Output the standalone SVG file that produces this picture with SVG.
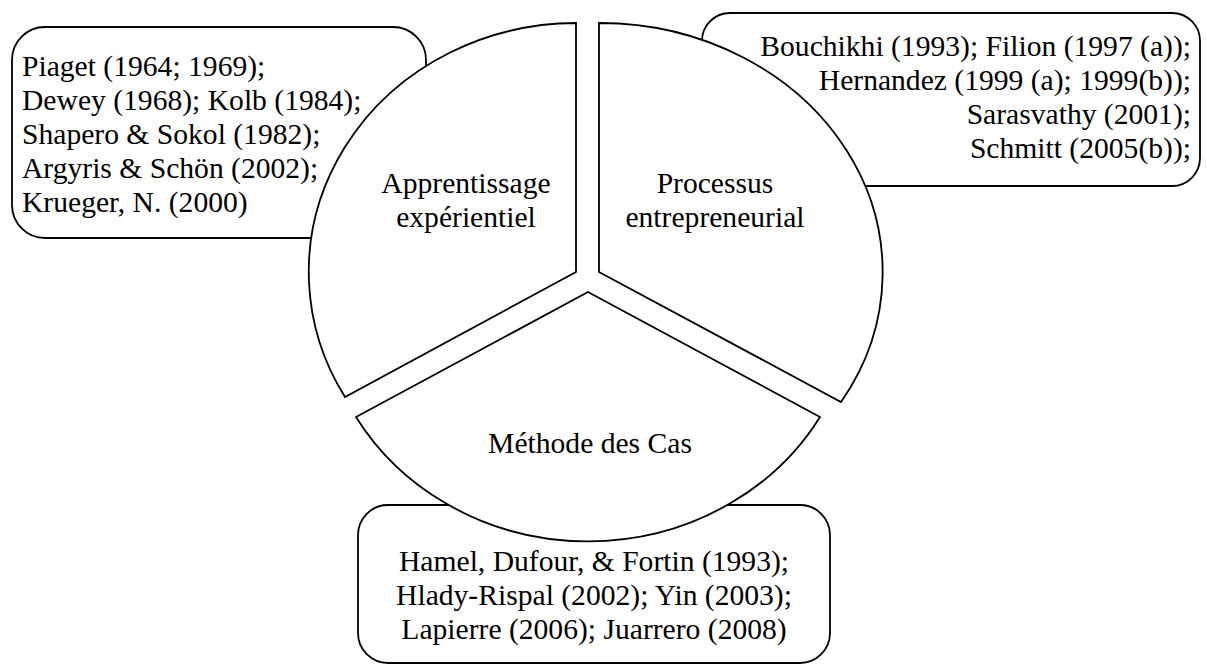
<svg xmlns="http://www.w3.org/2000/svg" width="1207" height="666" viewBox="0 0 1207 666">
<style>
  .box { fill: #ffffff; stroke: #000000; stroke-width: 1.8; }
  .seg { fill: #ffffff; stroke: #000000; stroke-width: 1.8; stroke-linejoin: miter; }
  text { font-family: "Liberation Serif", "Times New Roman", serif; font-size: 29.6px; fill: #000000; }
  .mid { text-anchor: middle; }
  .end { text-anchor: end; }
</style>
<rect width="1207" height="666" fill="#ffffff"/>

<g id="ref-apprentissage">
  <rect class="box" x="12" y="27" width="414" height="211" rx="33" ry="33"/>
  <text x="22" y="76">Piaget (1964; 1969);</text>
  <text x="22" y="110">Dewey (1968); Kolb (1984);</text>
  <text x="22" y="144">Shapero &amp; Sokol (1982);</text>
  <text x="22" y="178">Argyris &amp; Schön (2002);</text>
  <text x="22" y="212">Krueger, N. (2000)</text>
</g>

<g id="ref-processus">
  <rect class="box" x="702" y="13" width="498" height="173" rx="28" ry="28"/>
  <text class="end" x="1191" y="56">Bouchikhi (1993); Filion (1997 (a));</text>
  <text class="end" x="1191" y="90">Hernandez (1999 (a); 1999(b));</text>
  <text class="end" x="1191" y="124">Sarasvathy (2001);</text>
  <text class="end" x="1191" y="158">Schmitt (2005(b));</text>
</g>

<g id="ref-methode">
  <rect class="box" x="358" y="505" width="472" height="158" rx="30" ry="30"/>
  <text class="mid" x="594" y="571">Hamel, Dufour, &amp; Fortin (1993);</text>
  <text class="mid" x="594" y="605">Hlady-Rispal (2002); Yin (2003);</text>
  <text class="mid" x="594" y="639"> Lapierre (2006); Juarrero (2008)</text>
</g>

<g id="seg-apprentissage">
  <path class="seg" d="M576,272 L576,23 A268,249 0 0,0 345,397 Z"/>
  <text class="mid" x="466" y="193">Apprentissage</text>
  <text class="mid" x="466" y="227">expérientiel</text>
</g>

<g id="seg-processus">
  <path class="seg" d="M599,272 L599,23 A283,249 0 0,1 841,402 Z"/>
  <text class="mid" x="715" y="193">Processus</text>
  <text class="mid" x="715" y="227">entrepreneurial</text>
</g>

<g id="seg-methode">
  <path class="seg" d="M588,292 L820,417 A268,249 0 0,1 356,417 Z"/>
  <text class="mid" x="590" y="453">Méthode des Cas</text>
</g>

<g id="connectors"/>
</svg>
